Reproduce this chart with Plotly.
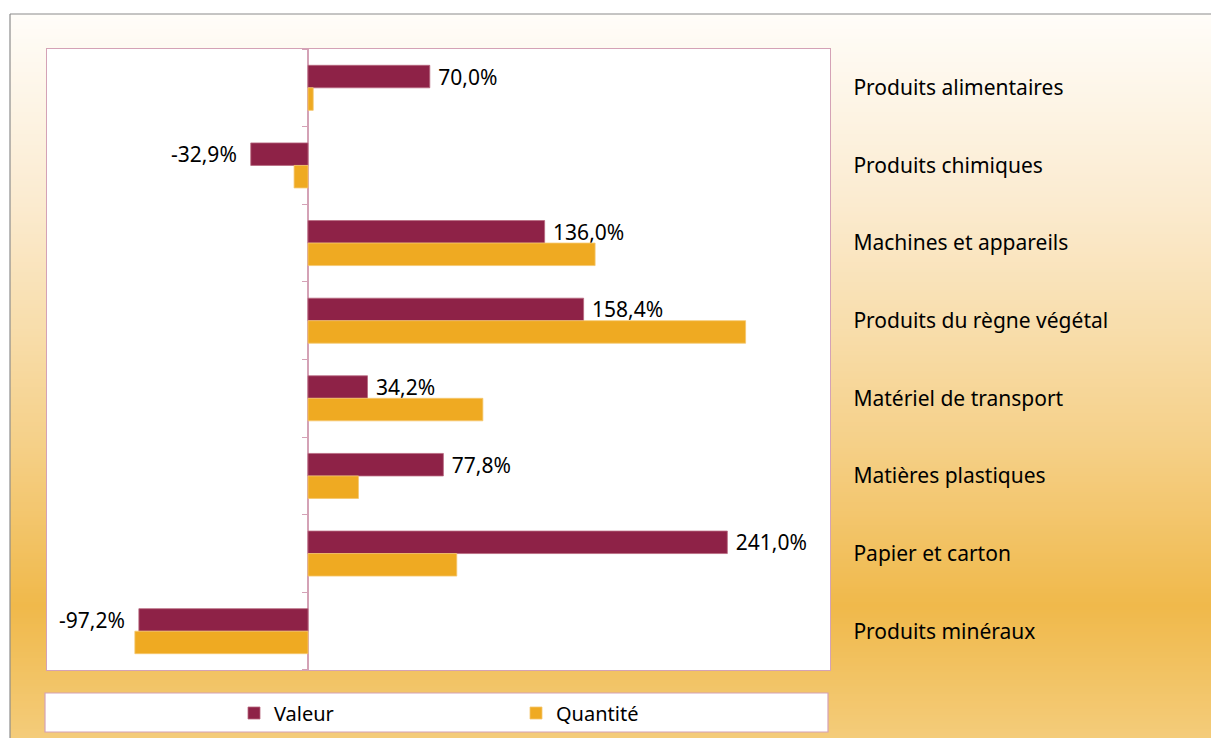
import base64
import struct
import zlib

import plotly.graph_objects as go

# ---------------- data ----------------
categories = [
    "Produits alimentaires",
    "Produits chimiques",
    "Machines et appareils",
    "Produits du règne végétal",
    "Matériel de transport",
    "Matières plastiques",
    "Papier et carton",
    "Produits minéraux",
]
valeur = [70.0, -32.9, 136.0, 158.4, 34.2, 77.8, 241.0, -97.2]
quantite = [3.0, -8.0, 165.0, 251.5, 100.5, 29.0, 85.5, -99.5]
series_names = ["Valeur", "Quantité"]

# ---------------- layout constants ----------------
W, H = 1211, 738           # reference picture size
H_FIG = 745                # page height actually photographed
KY = H_FIG / H
PL, PR, PT, PB = 47, 830, 49, 670          # plot area in reference pixels
X_RANGE = [-150, 300]
FONT = "Noto Sans"
PINK = "#d4a2b6"
C_VAL = "#8e2247"
C_QTE = "#efaa22"


def px_x(p):
    return (p - PL) / (PR - PL)


def px_y(p):
    return (PB - p) / (PB - PT)


# ---------- vertical gradient background as a tiny PNG ----------
def gradient_png(stops, height):
    rows = []
    for i in range(height):
        t = i / (height - 1)
        for (t0, c0), (t1, c1) in zip(stops[:-1], stops[1:]):
            if t0 <= t <= t1:
                f = 0 if t1 == t0 else (t - t0) / (t1 - t0)
                col = [round(a + (b - a) * f) for a, b in zip(c0, c1)]
                break
        rows.append(b"\x00" + bytes(col))
    raw = b"".join(rows)

    def chunk(tag, data):
        c = tag + data
        return struct.pack(">I", len(data)) + c + struct.pack(">I", zlib.crc32(c) & 0xFFFFFFFF)

    png = b"\x89PNG\r\n\x1a\n"
    png += chunk(b"IHDR", struct.pack(">IIBBBBB", 1, height, 8, 2, 0, 0, 0))
    png += chunk(b"IDAT", zlib.compress(raw, 9))
    png += chunk(b"IEND", b"")
    return "data:image/png;base64," + base64.b64encode(png).decode()


bg_top, bg_bottom = 14, H
span = bg_bottom - bg_top
stops = [
    (0.0, (255, 253, 249)),
    ((200 - bg_top) / span, (251, 235, 208)),
    ((330 - bg_top) / span, (248, 221, 170)),
    ((440 - bg_top) / span, (245, 208, 136)),
    ((600 - bg_top) / span, (240, 185, 75)),
    (1.0, (244, 205, 125)),
]
bg_src = gradient_png(stops, 362)


def fmt(v):
    s = f"{v:.1f}".replace(".", ",") + "%"
    return "\u00a0" + s if v >= 0 else s + "\u00a0\u00a0"


fig = go.Figure()
fig.add_trace(go.Bar(
    y=categories, x=valeur, orientation="h", name=series_names[0],
    marker=dict(color=C_VAL, line=dict(color="#b8687f", width=0.8)),
    text=[fmt(v) for v in valeur], textposition="outside",
    constraintext="none",
    textfont=dict(family=FONT, size=21, color="#000000"),
    cliponaxis=False, hoverinfo="x+y+name",
))
fig.add_trace(go.Bar(
    y=categories, x=quantite, orientation="h", name=series_names[1],
    marker=dict(color=C_QTE, line=dict(color="#f5c66e", width=0.8)),
    hoverinfo="x+y+name",
))
# helper trace so the zero-line tick axis is drawn
fig.add_trace(go.Scatter(x=[None], y=[None], yaxis="y2", showlegend=False,
                         hoverinfo="skip"))

n = len(categories)
boundaries = [i - 0.5 for i in range(n + 1)]

fig.update_layout(
    width=W, height=H_FIG, autosize=False,
    margin=dict(l=PL, r=W - PR, t=round(PT * KY), b=round(H_FIG - PB * KY), pad=0),
    paper_bgcolor="#ffffff",
    plot_bgcolor="#ffffff",
    font=dict(family=FONT, size=20, color="#000000"),
    barmode="group", bargap=0.42, bargroupgap=0.0,
    separators=", ",
    showlegend=True,
    legend=dict(
        orientation="h", xanchor="left", yanchor="middle",
        x=px_x(234), y=px_y(713),
        bgcolor="rgba(0,0,0,0)", borderwidth=0,
        font=dict(family=FONT, size=20, color="#000000"),
        entrywidth=237, entrywidthmode="pixels",
        traceorder="normal", itemclick=False, itemdoubleclick=False,
    ),
    xaxis=dict(
        range=X_RANGE, showgrid=False, showticklabels=False, ticks="",
        zeroline=True, zerolinecolor=PINK, zerolinewidth=1.2,
        showline=True, mirror=True, linecolor=PINK, linewidth=1.2,
        fixedrange=True,
    ),
    yaxis=dict(
        type="category", categoryorder="array", categoryarray=categories,
        autorange="reversed", side="right", showgrid=False,
        ticks="", ticklabelstandoff=18,
        tickfont=dict(family=FONT, size=21, color="#000000"),
        showline=True, mirror=True, linecolor=PINK, linewidth=1.2,
        fixedrange=True,
    ),
    yaxis2=dict(
        overlaying="y", anchor="free",
        position=(0 - X_RANGE[0]) / (X_RANGE[1] - X_RANGE[0]),
        side="left", range=[n - 0.5, -0.5],
        tickvals=boundaries, showticklabels=False,
        ticks="outside", ticklen=6, tickwidth=1.2, tickcolor=PINK,
        showgrid=False, zeroline=False, showline=False, fixedrange=True,
    ),
    images=[dict(
        source=bg_src, xref="paper", yref="paper",
        x=px_x(10), y=px_y(bg_top), sizex=(W + 5 - 10) / (PR - PL),
        sizey=(bg_bottom - bg_top + 8) / (PB - PT),
        xanchor="left", yanchor="top", sizing="stretch", layer="below",
    )],
    shapes=[
        dict(type="line", xref="paper", yref="paper", layer="below",
             x0=px_x(10), x1=px_x(W + 5), y0=px_y(bg_top), y1=px_y(bg_top),
             line=dict(color="#8c8c8c", width=1.2)),
        dict(type="line", xref="paper", yref="paper", layer="below",
             x0=px_x(10), x1=px_x(10), y0=px_y(bg_top), y1=px_y(H + 10),
             line=dict(color="#8c8c8c", width=1.2)),
        dict(type="rect", xref="paper", yref="paper", layer="below",
             x0=0, x1=1, y0=0, y1=1,
             line=dict(width=0), fillcolor="#ffffff"),
        dict(type="rect", xref="paper", yref="paper", layer="below",
             x0=px_x(45), x1=px_x(828), y0=px_y(693), y1=px_y(732),
             line=dict(color=PINK, width=1.2), fillcolor="#ffffff"),
    ],
)

page_js = (
    "var d=document.documentElement,b=document.body;"
    "[d,b].forEach(function(e){e.style.margin='0';e.style.padding='0';"
    "e.style.overflow='hidden';});"
)

fig.write_html(
    "out.html",
    config={"displayModeBar": False, "staticPlot": True},
    post_script=page_js,
)
